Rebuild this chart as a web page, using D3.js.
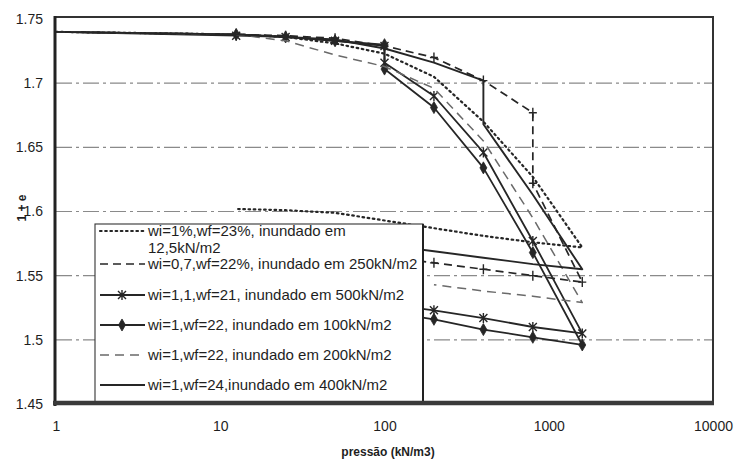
<!DOCTYPE html>
<html>
<head>
<meta charset="utf-8">
<script src="https://cdn.jsdelivr.net/npm/d3@7"></script>
<style>
  body { margin: 0; background: #fff; }
  svg { display: block; }
  text { font-family: "Liberation Sans", Arial, Helvetica, sans-serif; fill: #1e1e1e; }
</style>
</head>
<body>
<svg id="chart" width="735" height="460"></svg>
<script>
// Axis ticks
const xTickValues = [1, 10, 100, 1000, 10000];
const xTickLabels = ["1", "10", "100", "1000", "10000"];
const yTickValues = [1.45, 1.5, 1.55, 1.6, 1.65, 1.7, 1.75];
const yTickLabels = ["1.45", "1.5", "1.55", "1.6", "1.65", "1.7", "1.75"];
const gridValues = [1.5, 1.55, 1.6, 1.65, 1.7];

// Oedometer curves: pressure (kN/m2) and 1+e, loading then unloading
const pDotted = [1, 12.5, 25, 50, 100, 200, 400, 800, 1600, 800, 400, 200, 100, 50, 25, 12.5];
const eDotted = [1.740, 1.738, 1.736, 1.731, 1.723, 1.705, 1.670, 1.627, 1.572, 1.576, 1.581, 1.587, 1.593, 1.599, 1.601, 1.602];

const pDashed = [1, 12.5, 25, 50, 100, 200, 400, 800, 800, 1600, 800, 400, 200, 100];
const eDashed = [1.740, 1.738, 1.737, 1.735, 1.729, 1.720, 1.702, 1.677, 1.622, 1.545, 1.550, 1.555, 1.560, 1.565];

const pCross = [1, 12.5, 25, 50, 100, 100, 200, 400, 800, 1600, 800, 400, 200, 100];
const eCross = [1.740, 1.737, 1.736, 1.733, 1.729, 1.716, 1.690, 1.646, 1.577, 1.505, 1.510, 1.517, 1.523, 1.528];

const pDiamond = [1, 12.5, 25, 50, 100, 100, 200, 400, 800, 1600, 800, 400, 200, 100];
const eDiamond = [1.740, 1.738, 1.736, 1.733, 1.730, 1.711, 1.681, 1.634, 1.568, 1.496, 1.502, 1.508, 1.516, 1.522];

const pLight = [1, 12.5, 25, 50, 100, 200, 400, 800, 1600, 800, 400, 200];
const eLight = [1.740, 1.738, 1.733, 1.722, 1.713, 1.696, 1.655, 1.595, 1.529, 1.534, 1.538, 1.543];

const pSolid = [1, 12.5, 25, 50, 100, 200, 400, 400, 800, 1600, 800, 400, 200, 100];
const eSolid = [1.740, 1.738, 1.736, 1.734, 1.727, 1.716, 1.702, 1.668, 1.613, 1.555, 1.559, 1.564, 1.569, 1.574];

const seriesLabels = [
  ["wi=1%,wf=23%, inundado em", "12,5kN/m2"],
  ["wi=0,7,wf=22%, inundado em 250kN/m2"],
  ["wi=1,1,wf=21, inundado em 500kN/m2"],
  ["wi=1,wf=22, inundado em 100kN/m2"],
  ["wi=1,wf=22, inundado em 200kN/m2"],
  ["wi=1,wf=24,inundado em 400kN/m2"]
];
const xTitle = "pressão (kN/m3)";
const yTitle = "1 + e";

// ---- drawing ----
const svg = d3.select("#chart");
const plotLeft = 56, plotRight = 713, plotTop = 19, plotBottom = 404;

const x = d3.scaleLog().domain([1, 10000]).range([plotLeft, plotRight]);
const y = d3.scaleLinear().domain([1.45, 1.75]).range([plotBottom, plotTop]);

const ink = "#262626";

const styles = [
  { stroke: ink, width: 2.2, dash: "1.6,3.6", cap: "round", marker: null },
  { stroke: ink, width: 1.7, dash: "8,5", cap: "butt", marker: "plus" },
  { stroke: ink, width: 1.8, dash: null, cap: "butt", marker: "cross" },
  { stroke: ink, width: 1.8, dash: null, cap: "butt", marker: "diamond" },
  { stroke: "#6a6a6a", width: 1.5, dash: "9,6", cap: "butt", marker: null },
  { stroke: ink, width: 1.9, dash: null, cap: "butt", marker: null }
];

const series = [
  { p: pDotted, e: eDotted },
  { p: pDashed, e: eDashed },
  { p: pCross, e: eCross },
  { p: pDiamond, e: eDiamond },
  { p: pLight, e: eLight },
  { p: pSolid, e: eSolid }
].map((s, i) => ({ pts: s.p.map((p, k) => [p, s.e[k]]), style: styles[i], label: seriesLabels[i] }));

// horizontal grid lines (dash-dot)
svg.append("g").selectAll("line").data(gridValues).join("line")
  .attr("x1", plotLeft).attr("x2", plotRight)
  .attr("y1", d => y(d)).attr("y2", d => y(d))
  .attr("stroke", "#6e6e6e").attr("stroke-width", 1.1)
  .attr("stroke-dasharray", "16,4,3,4")
  .attr("opacity", 0.8);

// markers
function drawMarker(g, type, cx, cy, stroke) {
  if (type === "cross") {
    g.append("path")
      .attr("d", `M${cx-4},${cy-4}L${cx+4},${cy+4}M${cx-4},${cy+4}L${cx+4},${cy-4}M${cx},${cy-5}L${cx},${cy+5}`)
      .attr("stroke", stroke).attr("stroke-width", 1.4).attr("fill", "none");
  } else if (type === "diamond") {
    g.append("path")
      .attr("d", d3.symbol(d3.symbolDiamond, 42)())
      .attr("transform", `translate(${cx},${cy})`)
      .attr("fill", stroke).attr("stroke", stroke).attr("stroke-width", 0.8);
  } else if (type === "plus") {
    g.append("path")
      .attr("d", `M${cx-4},${cy}L${cx+4},${cy}M${cx},${cy-5}L${cx},${cy+5}`)
      .attr("stroke", stroke).attr("stroke-width", 1.4).attr("fill", "none");
  }
}

const line = d3.line().x(d => x(d[0])).y(d => y(d[1]));
const plot = svg.append("g");
series.forEach(s => {
  plot.append("path")
    .attr("d", line(s.pts))
    .attr("fill", "none")
    .attr("stroke", s.style.stroke)
    .attr("stroke-width", s.style.width)
    .attr("stroke-dasharray", s.style.dash)
    .attr("stroke-linecap", s.style.cap)
    .attr("stroke-linejoin", "round");
  if (s.style.marker) {
    const mg = plot.append("g");
    s.pts.slice(1).forEach(d => drawMarker(mg, s.style.marker, x(d[0]), y(d[1]), s.style.stroke));
  }
});

// legend
const lg = svg.append("g");
const lgX = 95, lgY = 224, lgW = 328, lgH = plotBottom - 224;
lg.append("rect").attr("x", lgX).attr("y", lgY).attr("width", lgW).attr("height", lgH)
  .attr("fill", "#fff").attr("stroke", "#333").attr("stroke-width", 1.1);
lg.append("line").attr("x1", lgX + lgW).attr("x2", lgX + lgW).attr("y1", lgY).attr("y2", plotBottom)
  .attr("stroke", "#222").attr("stroke-width", 2);

const rowY = [231, 264, 295, 325, 355, 385];
series.forEach((s, i) => {
  const ry = rowY[i];
  lg.append("line").attr("x1", 100).attr("x2", 145).attr("y1", ry).attr("y2", ry)
    .attr("stroke", s.style.stroke).attr("stroke-width", s.style.width)
    .attr("stroke-dasharray", s.style.dash).attr("stroke-linecap", s.style.cap);
  if (s.style.marker === "cross" || s.style.marker === "diamond") {
    drawMarker(lg, s.style.marker, 122, ry, s.style.stroke);
  }
  s.label.forEach((t, k) => {
    lg.append("text").attr("x", 148).attr("y", ry + k * 17).attr("dy", "0.36em")
      .attr("font-size", 15).text(t);
  });
});

// frame
svg.append("line").attr("x1", plotLeft).attr("x2", plotRight).attr("y1", 17).attr("y2", 17)
  .attr("stroke", "#333").attr("stroke-width", 2);
svg.append("line").attr("x1", plotRight).attr("x2", plotRight).attr("y1", 16).attr("y2", plotBottom)
  .attr("stroke", "#333").attr("stroke-width", 2);
svg.append("line").attr("x1", 55).attr("x2", 55).attr("y1", 16).attr("y2", plotBottom + 2)
  .attr("stroke", "#222").attr("stroke-width", 3);
svg.append("line").attr("x1", 53).attr("x2", plotRight + 1).attr("y1", plotBottom - 1).attr("y2", plotBottom - 1)
  .attr("stroke", "#3a3a3a").attr("stroke-width", 4.5);

// axes (labels only)
const yAxis = d3.axisLeft(y).tickValues(yTickValues)
  .tickFormat((d, i) => yTickLabels[i]).tickSize(0).tickPadding(13);
const gy = svg.append("g").attr("transform", `translate(${plotLeft},0)`).call(yAxis);
gy.select(".domain").remove();
gy.selectAll("text").attr("font-size", 14).attr("font-family", "Liberation Sans, Arial, sans-serif").attr("fill", "#1e1e1e");

const xAxis = d3.axisBottom(x).tickValues(xTickValues)
  .tickFormat((d, i) => xTickLabels[i]).tickSize(0).tickPadding(17);
const gx = svg.append("g").attr("transform", `translate(0,${plotBottom})`).call(xAxis);
gx.select(".domain").remove();
gx.selectAll("text").attr("font-size", 14).attr("font-family", "Liberation Sans, Arial, sans-serif").attr("fill", "#1e1e1e");

// titles
svg.append("text").attr("x", 388).attr("y", 452).attr("dy", "0.35em")
  .attr("text-anchor", "middle").attr("font-size", 12).attr("font-weight", "bold").text(xTitle);
svg.append("text").attr("transform", "translate(22,208) rotate(-90)").attr("dy", "0.35em")
  .attr("text-anchor", "middle").attr("font-size", 12).attr("font-weight", "bold").text(yTitle);
</script>
</body>
</html>
